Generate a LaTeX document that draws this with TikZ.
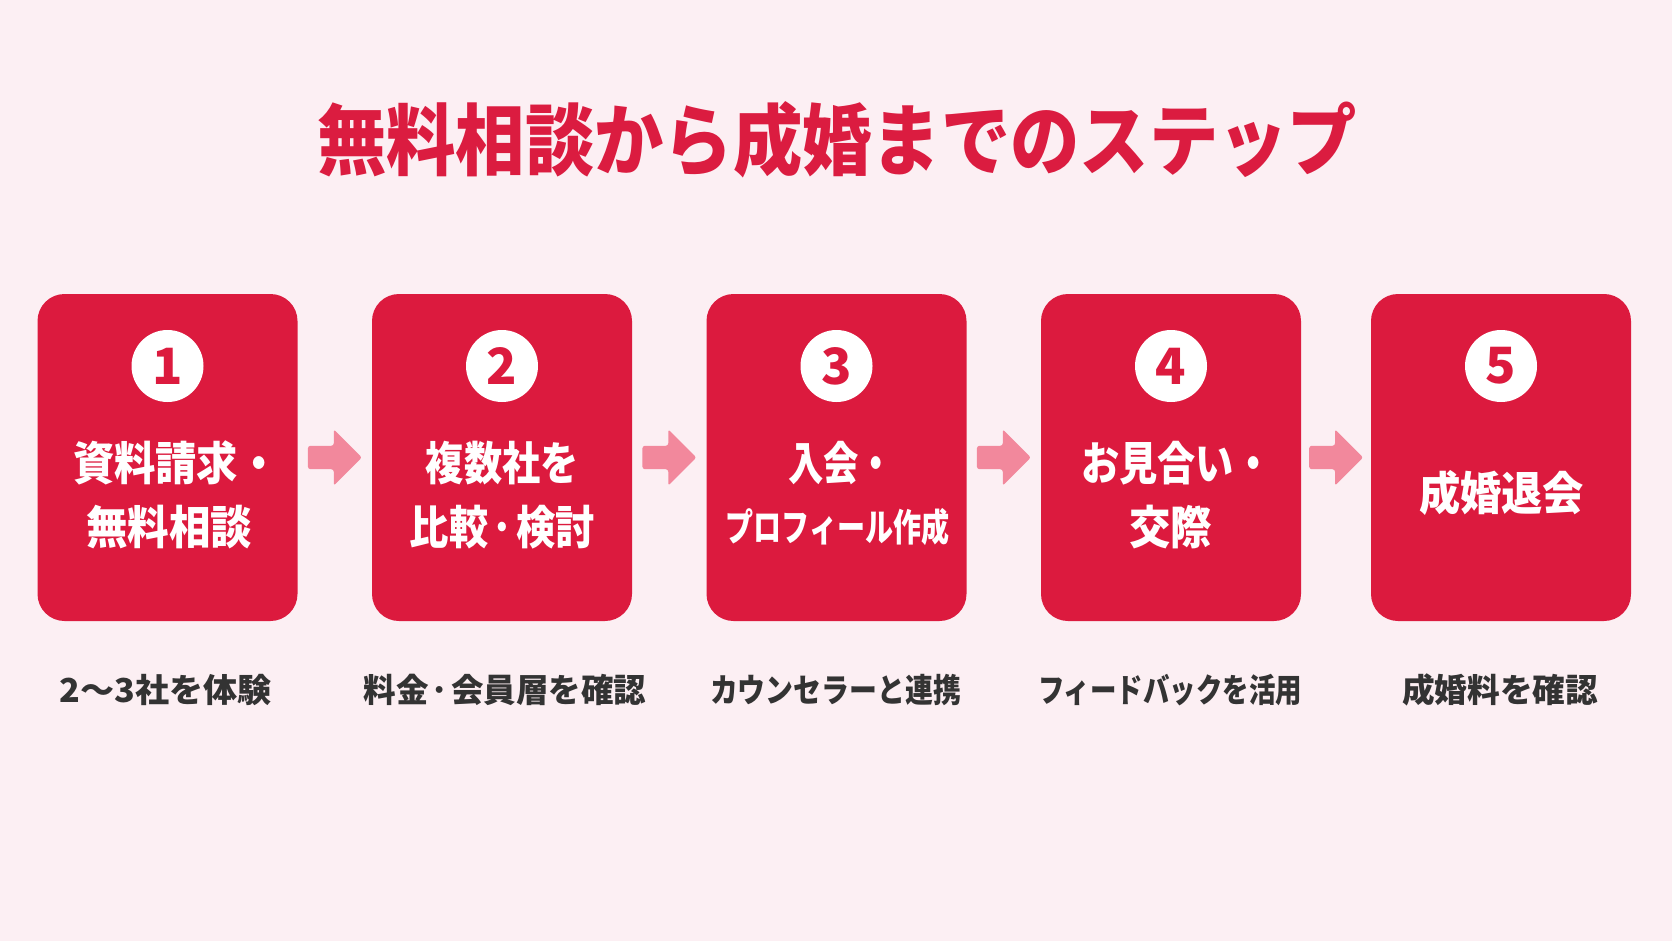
\documentclass[tikz,border=0pt]{standalone}
\usepackage{fontspec}
\usepackage{graphicx}
\newfontfamily\jp{Noto Sans CJK JP}
\usetikzlibrary{shapes.arrows,calc}
\definecolor{bgpink}{RGB}{252,239,243}
\definecolor{mainred}{RGB}{220,26,62}
\definecolor{titlered}{RGB}{219,28,64}
\definecolor{arrowpink}{RGB}{242,136,156}
\definecolor{subgray}{RGB}{51,51,51}
\newcommand{\middot}{\kern0.1em･\kern0.1em}
\begin{document}
\begin{tikzpicture}[x=1pt,y=-1pt,
  stepbox/.style={fill=mainred,draw=none,rounded corners=27pt,minimum width=260pt,minimum height=327pt,inner sep=0},
  numc/.style={circle,fill=white,draw=none,minimum size=72pt,inner sep=0,text=mainred,font=\jp\bfseries\fontsize{50pt}{54pt}\selectfont},
  boxtxt/.style={inner sep=0,text=white,text height=40.5pt,text depth=5.5pt,font=\jp\bfseries\fontsize{46pt}{50pt}\selectfont},
  boxsmall/.style={inner sep=0,text=white,text height=33.4pt,text depth=4.6pt,font=\jp\bfseries\fontsize{38pt}{42pt}\selectfont},
  titletxt/.style={inner sep=0,text=titlered,text height=68.6pt,text depth=9.4pt,font=\jp\bfseries\fontsize{78pt}{82pt}\selectfont},
  subtxt/.style={inner sep=0,text=subgray,text height=29pt,text depth=4pt,font=\jp\bfseries\fontsize{33pt}{36pt}\selectfont},
  flow/.style={single arrow,fill=arrowpink,draw=none,minimum height=54pt,text height=11.5pt,text depth=11.5pt,single arrow head extend=16.5pt,single arrow head indent=0pt,inner sep=0,rounded corners=2.5pt,anchor=tail}
]
\fill[bgpink] (0,0) rectangle (1672,941);
\useasboundingbox (0,0) rectangle (1672,941);

% title
\node[titletxt] (title) at (837,140) {\resizebox{1040pt}{\height}{無料相談から成婚までのステップ}};

% boxes
\node[stepbox] (b1) at (167.5,457.5) {};
\node[stepbox] (b2) at (502,457.5) {};
\node[stepbox] (b3) at (836.5,457.5) {};
\node[stepbox] (b4) at (1171,457.5) {};
\node[stepbox] (b5) at (1501,457.5) {};

% numbers
\node[numc] (n1) at (167.5,366) {1};
\node[numc] (n2) at (502,366) {2};
\node[numc] (n3) at (836.5,366) {3};
\node[numc] (n4) at (1171,366) {4};
\node[numc] (n5) at (1501,366) {5};

% box texts
\node[boxtxt] (t1a) at (176.3,463) {\resizebox{206.6pt}{\height}{資料請求・}};
\node[boxtxt] (t1b) at (169,527) {\resizebox{166pt}{\height}{無料相談}};
\node[boxtxt] (t2a) at (502.3,463) {\resizebox{152.8pt}{\height}{複数社を}};
\node[boxtxt] (t2b) at (502.3,527) {\resizebox{184.7pt}{\height}{比較\middot 検討}};
\node[boxtxt] (t3a) at (841,463) {\resizebox{106pt}{\height}{入会・}};
\node[boxsmall] (t3b) at (837.5,527) {\resizebox{224pt}{\height}{プロフィール作成}};
\node[boxtxt] (t4a) at (1176.7,463) {\resizebox{191pt}{\height}{お見合い・}};
\node[boxtxt] (t4b) at (1170.5,527) {\resizebox{83pt}{\height}{交際}};
\node[boxtxt] (t5a) at (1501.5,493) {\resizebox{165pt}{\height}{成婚退会}};

% arrows between boxes
\node[flow] (a12) at ($(b1.east)!0.5!(b2.west)+(-27,0)$) {};
\node[flow] (a23) at ($(b2.east)!0.5!(b3.west)+(-27,0)$) {};
\node[flow] (a34) at ($(b3.east)!0.5!(b4.west)+(-27,0)$) {};
\node[flow] (a45) at ($(b4.east)!0.5!(b5.west)+(-27,0)$) {};

% subtitles
\node[subtxt] (s1) at (166,690) {\resizebox{212pt}{\height}{2〜3社を体験}};
\node[subtxt] (s2) at (505,690) {\resizebox{283pt}{\height}{料金\middot 会員層を確認}};
\node[subtxt] (s3) at (835.5,690) {\resizebox{251pt}{\height}{カウンセラーと連携}};
\node[subtxt] (s4) at (1170,690) {\resizebox{264pt}{\height}{フィードバックを活用}};
\node[subtxt] (s5) at (1500,690) {\resizebox{196pt}{\height}{成婚料を確認}};
\end{tikzpicture}
\end{document}
